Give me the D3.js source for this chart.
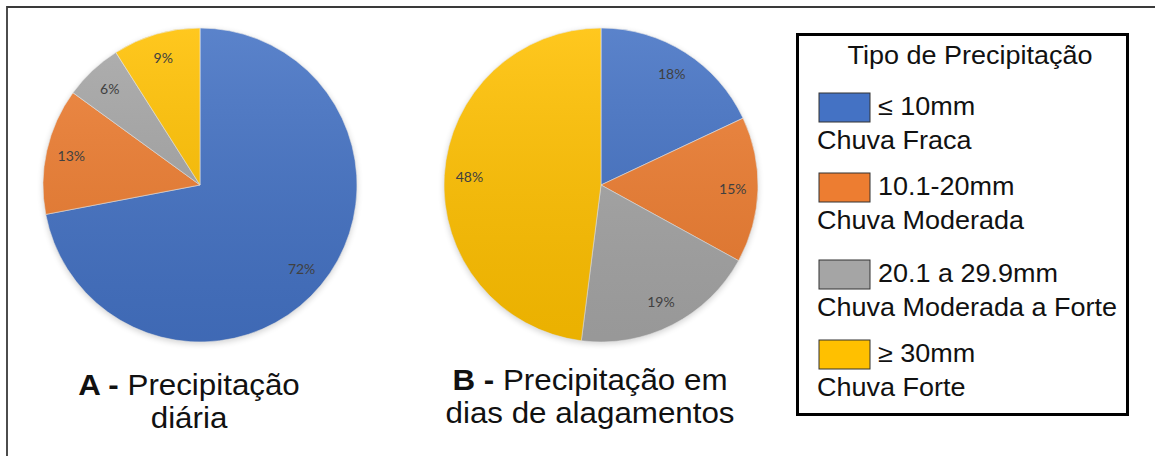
<!DOCTYPE html>
<html>
<head>
<meta charset="utf-8">
<script src="https://cdn.jsdelivr.net/npm/d3@7"></script>
<style>
  body { margin: 0; background: #fff; }
  svg { display: block; }
</style>
</head>
<body>
<svg id="chart" width="1155" height="456"></svg>
<script>
// Precipitation classes
var categories = ['≤ 10mm', '10.1-20mm', '20.1 a 29.9mm', '≥ 30mm'];
var descriptions = ['Chuva Fraca', 'Chuva Moderada', 'Chuva Moderada a Forte', 'Chuva Forte'];
var colors = ['#4472c4', '#ed7d31', '#a5a5a5', '#ffc000'];

// Share of days (%)
var dailyValues = [72, 13, 6, 9];
var floodValues = [18, 15, 19, 48];

var svg = d3.select('#chart');
var radius = 157;
// the text in the source image is a little wider than plain Arial
var stretch = 1.08;
var font = '"Liberation Sans", Arial, sans-serif';

// Gradient and shadow, like the office chart look
var defs = svg.append('defs');
var shade = defs.append('linearGradient')
	.attr('id', 'shade')
	.attr('x1', 0).attr('y1', 0).attr('x2', 0).attr('y2', 1);
shade.append('stop').attr('offset', '0%').attr('stop-color', '#fff').attr('stop-opacity', 0.12);
shade.append('stop').attr('offset', '100%').attr('stop-color', '#000').attr('stop-opacity', 0.08);

var blur = defs.append('filter').attr('id', 'shadow')
	.attr('x', '-10%').attr('y', '-10%').attr('width', '120%').attr('height', '120%');
blur.append('feGaussianBlur').attr('stdDeviation', 3);

// Outer frame (only top and left edges are visible)
svg.append('path')
	.attr('d', 'M7,456 L7,7 L1155,7')
	.attr('fill', 'none')
	.attr('stroke', '#3a3a3a')
	.attr('stroke-width', 1.8);

var pie = d3.pie().sort(null).value(function(d) { return d; });
var arc = d3.arc().innerRadius(0).outerRadius(radius);
var labelArc = d3.arc().innerRadius(radius * 0.84).outerRadius(radius * 0.84);

function drawPie(cx, cy, values) {
	var g = svg.append('g').attr('transform', 'translate(' + cx + ',' + cy + ')');

	g.append('circle')
		.attr('r', radius)
		.attr('cy', 2)
		.attr('fill', '#000')
		.attr('opacity', 0.18)
		.attr('filter', 'url(#shadow)');

	g.selectAll('path.slice')
		.data(pie(values))
		.enter().append('path')
		.attr('class', 'slice')
		.attr('d', arc)
		.attr('fill', function(d, i) { return colors[i]; })
		.attr('stroke', '#e8e8e8')
		.attr('stroke-width', 0.6);

	g.append('circle')
		.attr('r', radius)
		.attr('fill', 'url(#shade)');

	g.selectAll('text.pct')
		.data(pie(values))
		.enter().append('text')
		.attr('class', 'pct')
		.attr('transform', function(d) { return 'translate(' + labelArc.centroid(d) + ')'; })
		.attr('text-anchor', 'middle')
		.attr('dy', '0.35em')
		.style('font-family', 'Lato, "Open Sans", sans-serif')
		.style('font-size', '14px')
		.style('fill', '#404040')
		.text(function(d) { return d.data + '%'; });
}

drawPie(200, 185, dailyValues);
drawPie(601, 185, floodValues);

// Titles under the pies, first letter in bold
function drawTitle(cx, y, letter, lines, size, lineGap) {
	lines.forEach(function(line, i) {
		var t = svg.append('text')
			.attr('transform', 'translate(' + cx + ',' + (y + i * lineGap) + ') scale(' + stretch + ',1)')
			.attr('text-anchor', 'middle')
			.style('font-family', font)
			.style('font-size', size + 'px')
			.style('fill', '#111');
		if (i == 0) {
			t.append('tspan').style('font-weight', 'bold').text(letter + ' -');
			t.append('tspan').text(' ' + line);
		} else {
			t.text(line);
		}
	});
}

drawTitle(189, 395, 'A', ['Precipitação', 'diária'], 29, 33);
drawTitle(590, 390, 'B', ['Precipitação em', 'dias de alagamentos'], 29, 33);

// Legend box
var legend = svg.append('g');
legend.append('rect')
	.attr('x', 797.5).attr('y', 34.5)
	.attr('width', 330).attr('height', 380)
	.attr('fill', '#fff')
	.attr('stroke', '#000')
	.attr('stroke-width', 3);

legend.append('text')
	.attr('transform', 'translate(970,64) scale(' + stretch + ',1)')
	.attr('text-anchor', 'middle')
	.style('font-family', font)
	.style('font-size', '25px')
	.style('fill', '#111')
	.text('Tipo de Precipitação');

var swatchTops = [93, 173, 260, 340];
var items = legend.selectAll('g.item')
	.data(categories)
	.enter().append('g')
	.attr('class', 'item')
	.attr('transform', function(d, i) { return 'translate(819,' + swatchTops[i] + ')'; });

items.append('rect')
	.attr('width', 51).attr('height', 29)
	.attr('fill', function(d, i) { return colors[i]; })
	.attr('stroke', '#333')
	.attr('stroke-width', 1);

items.append('text')
	.attr('transform', 'translate(59,22) scale(' + stretch + ',1)')
	.style('font-family', font)
	.style('font-size', '25px')
	.style('fill', '#111')
	.text(function(d) { return d; });

items.append('text')
	.attr('transform', 'translate(-2,56) scale(' + stretch + ',1)')
	.style('font-family', font)
	.style('font-size', '25px')
	.style('fill', '#111')
	.text(function(d, i) { return descriptions[i]; });
</script>
</body>
</html>
